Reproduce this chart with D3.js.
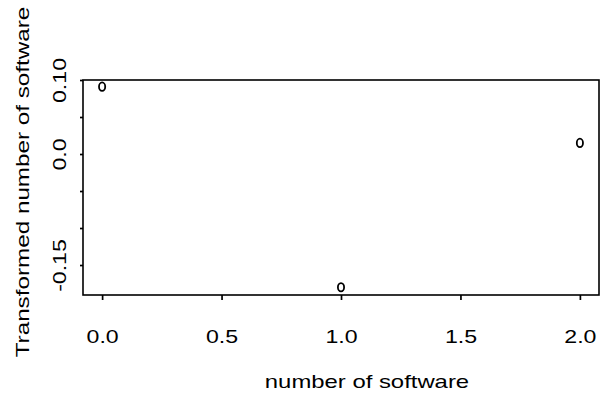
<!DOCTYPE html>
<html>
<head>
<meta charset="utf-8">
<script src="https://cdn.jsdelivr.net/npm/d3@7"></script>
<style>
  html, body { margin: 0; padding: 0; background: #fff; }
  text { font-family: "Liberation Sans", Arial, Helvetica, sans-serif; fill: #000; }
</style>
</head>
<body>
<svg id="chart" width="612" height="400"></svg>
<script>
// ---- data ----
const xValues = [0, 1, 2];
const yValues = [0.091, -0.180, 0.015];
const xTicks = [0, 0.5, 1, 1.5, 2];
const xTickLabels = ["0.0", "0.5", "1.0", "1.5", "2.0"];
const yTicks = [0.10, 0.05, 0.0, -0.05, -0.10, -0.15];
const yTickLabels = ["0.10", "", "0.0", "", "", "-0.15"];
const xTitle = "number of software";
const yTitle = "Transformed number of software";

// ---- layout ----
const svg = d3.select("#chart");
const box = { left: 83, right: 599, top: 80, bottom: 295 };
const x = d3.scaleLinear().domain([-0.08, 2.08]).range([box.left, box.right]);
const y = d3.scaleLinear().domain([-0.1905, 0.1]).range([box.bottom, box.top]);
const FS = 18.5;
const STRETCH = 1.25;

function stretch(sel, factor) {
  sel.each(function() {
    const len = this.getComputedTextLength();
    if (len > 0) {
      d3.select(this).attr("textLength", len * factor).attr("lengthAdjust", "spacingAndGlyphs");
    }
  });
}

// box
svg.append("rect")
  .attr("x", box.left).attr("y", box.top)
  .attr("width", box.right - box.left).attr("height", box.bottom - box.top)
  .attr("fill", "none").attr("stroke", "#000").attr("stroke-width", 1.6);

// x axis
const xAxis = d3.axisBottom(x).tickValues(xTicks)
  .tickFormat((d, i) => xTickLabels[i]).tickSize(5).tickPadding(30);
const gx = svg.append("g").attr("transform", `translate(0,${box.bottom})`).call(xAxis);
gx.select(".domain").remove();
gx.selectAll(".tick line").attr("stroke", "#000").attr("stroke-width", 1.7);
gx.selectAll(".tick text").attr("font-size", FS).attr("font-family", "Liberation Sans, Arial, sans-serif")
  .call(stretch, STRETCH);

// y axis
const yAxis = d3.axisLeft(y).tickValues(yTicks)
  .tickFormat((d, i) => yTickLabels[i]).tickSize(3).tickPadding(0);
const gy = svg.append("g").attr("transform", `translate(${box.left},0)`).call(yAxis);
gy.select(".domain").remove();
gy.selectAll(".tick line").attr("stroke", "#000").attr("stroke-width", 1.7);
gy.selectAll(".tick text")
  .attr("font-size", FS).attr("font-family", "Liberation Sans, Arial, sans-serif")
  .attr("x", null).attr("dy", null)
  .attr("text-anchor", "middle")
  .attr("transform", "translate(-17.5,0) rotate(-90)")
  .call(stretch, STRETCH);

// points
svg.append("g").selectAll("ellipse")
  .data(xValues.map((d, i) => [d, yValues[i]]))
  .join("ellipse")
  .attr("cx", d => x(d[0])).attr("cy", d => y(d[1]))
  .attr("rx", 3.1).attr("ry", 4.2)
  .attr("fill", "none").attr("stroke", "#000").attr("stroke-width", 1.8);

// titles
svg.append("text")
  .attr("x", 367).attr("y", 388)
  .attr("text-anchor", "middle").attr("font-size", FS)
  .text(xTitle).call(stretch, 1.29);

svg.append("text")
  .attr("transform", `translate(29,182) rotate(-90)`)
  .attr("text-anchor", "middle").attr("font-size", FS)
  .text(yTitle).call(stretch, 1.31);
</script>
</body>
</html>
